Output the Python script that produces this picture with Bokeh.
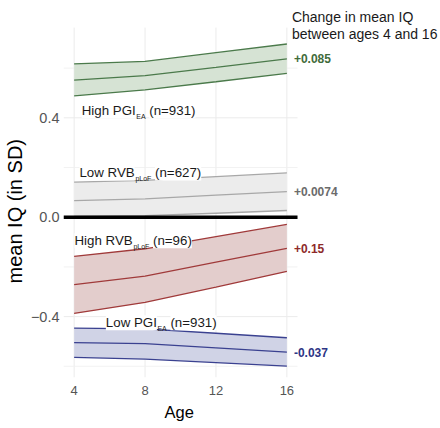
import math
from bokeh.plotting import figure
from bokeh.models import FixedTicker, Label, Title
from bokeh.embed import file_html
from bokeh.resources import INLINE

# ---------------- data ----------------
ages = [4, 8, 12, 16]

high_pgi_mean = [0.552, 0.570, 0.603, 0.637]
high_pgi_lower = [0.488, 0.512, 0.545, 0.579]
high_pgi_upper = [0.617, 0.627, 0.662, 0.697]

low_rvb_mean = [0.067, 0.074, 0.089, 0.103]
low_rvb_lower = [0.003, 0.006, 0.016, 0.027]
low_rvb_upper = [0.141, 0.148, 0.163, 0.178]

high_rvb_mean = [-0.271, -0.237, -0.181, -0.125]
high_rvb_lower = [-0.387, -0.343, -0.281, -0.218]
high_rvb_upper = [-0.158, -0.127, -0.078, -0.029]

low_pgi_mean = [-0.505, -0.509, -0.526, -0.543]
low_pgi_lower = [-0.564, -0.571, -0.585, -0.599]
low_pgi_upper = [-0.446, -0.449, -0.467, -0.485]

group_main = ["High PGI", "Low RVB", "High RVB", "Low PGI"]
group_sub = ["EA", "pLoF", "pLoF", "EA"]
group_n = ["(n=931)", "(n=627)", "(n=96)", "(n=931)"]
change_labels = ["+0.085", "+0.0074", "+0.15", "-0.037"]

x_ticks = [4, 8, 12, 16]
y_ticks = [-0.4, 0.0, 0.4]
y_tick_labels = ["\u22120.4", "0.0", "0.4"]
y_minor = [-0.6, -0.2, 0.2, 0.6]
title_lines = ["Change in mean IQ", "between ages 4 and 16"]
x_title = "Age"
y_title = "mean IQ (in SD)"

# ---------------- styles ----------------
FONT = "Liberation Sans"
line_colors = ["#4b7a4b", "#a8a8a8", "#a03a3a", "#3a4190"]
fill_colors = ["#d6e3d4", "#ececec", "#e3cdcc", "#d0d3e6"]
text_colors = ["#3f6b3a", "#6b6b6b", "#8e2a2a", "#2d3585"]
label_pos = [(4.43, 0.428), (4.30, 0.178), (4.02, -0.095), (5.79, -0.425)]
PANEL_X = (3.4, 16.6)
PANEL_Y = (-0.645, 0.763)

AW = {' ': 278, '(': 333, ')': 333, '=': 584, 'H': 722, 'i': 222, 'g': 556,
      'h': 556, 'P': 667, 'G': 778, 'I': 278, 'L': 556, 'o': 556, 'w': 722,
      'R': 722, 'V': 667, 'B': 667, 'n': 556, 'E': 667, 'A': 667, 'p': 556,
      'F': 611}


def tw(s, size):
    return sum(AW.get(c, 556) for c in s) * size / 1000.0


p = figure(width=440, height=428, x_range=(3.4, 24.665), y_range=(-0.645, 0.872),
           output_backend="svg", toolbar_location=None,
           min_border_left=60, min_border_right=0, min_border_top=0,
           min_border_bottom=51)
p.outline_line_color = None
p.grid.visible = False

# axes
p.xaxis.ticker = FixedTicker(ticks=x_ticks)
p.yaxis.ticker = FixedTicker(ticks=y_ticks, minor_ticks=y_minor)
p.yaxis.major_label_overrides = {t: l for t, l in zip(y_ticks, y_tick_labels)}
for ax in (p.xaxis[0], p.yaxis[0]):
    ax.axis_line_color = None
    ax.major_tick_line_color = None
    ax.minor_tick_line_color = None
    ax.major_tick_out = 0
    ax.major_tick_in = 0
    ax.minor_tick_out = 0
    ax.minor_tick_in = 0
    ax.major_label_text_font = FONT
    ax.major_label_text_color = "#555555"
p.xaxis.major_label_text_font_size = "13px"
p.yaxis.major_label_text_font_size = "14.5px"
p.xaxis.major_label_standoff = 8
p.yaxis.major_label_standoff = 4

# axis titles, aligned to the panel (not the whole frame)
p.add_layout(Title(text=x_title, align="left", offset=101, standoff=7,
                   text_font=FONT, text_font_size="16.5px",
                   text_font_style="normal", text_color="black"), "below")
p.add_layout(Title(text=y_title, align="left", offset=94, standoff=3,
                   text_font=FONT, text_font_size="20px",
                   text_font_style="normal", text_color="black"), "left")

# grid drawn over the panel area only
p.segment(x0=x_ticks, y0=[PANEL_Y[0]] * 4, x1=x_ticks, y1=[PANEL_Y[1]] * 4,
          line_color="#ebebeb", line_width=1)
p.segment(x0=[PANEL_X[0]] * 3, y0=y_ticks, x1=[PANEL_X[1]] * 3, y1=y_ticks,
          line_color="#ebebeb", line_width=1)
p.segment(x0=[PANEL_X[0]] * 4, y0=y_minor, x1=[PANEL_X[1]] * 4, y1=y_minor,
          line_color="#efefef", line_width=0.8)

groups = [
    (high_pgi_lower, high_pgi_mean, high_pgi_upper),
    (low_rvb_lower, low_rvb_mean, low_rvb_upper),
    (high_rvb_lower, high_rvb_mean, high_rvb_upper),
    (low_pgi_lower, low_pgi_mean, low_pgi_upper),
]

for i, (lo, mu, hi) in enumerate(groups):
    p.varea(x=ages, y1=lo, y2=hi, fill_color=fill_colors[i], fill_alpha=1.0)
    for series in (lo, mu, hi):
        p.line(ages, series, line_color=line_colors[i], line_width=1.3)

# zero line
p.segment(x0=[PANEL_X[0]], y0=[0], x1=[PANEL_X[1]], y1=[0],
          line_color="black", line_width=3.5)

# group labels with subscripts
MAIN_SIZE = 13.3
SUB_SIZE = 7.0
SUB_DROP = 6.0 / 248.5
for i in range(4):
    x0, yb = label_pos[i]
    w_main = tw(group_main[i], MAIN_SIZE)
    w_sub = tw(group_sub[i], SUB_SIZE)
    w_sp = tw(" ", MAIN_SIZE)
    p.add_layout(Label(x=x0, y=yb, text=group_main[i], text_font=FONT,
                       text_font_size=f"{MAIN_SIZE}px", text_color="#1a1a1a",
                       text_baseline="alphabetic", text_align="left",
                       background_fill_color="white"))
    p.add_layout(Label(x=x0, y=yb, x_offset=w_main + w_sub + w_sp + 0.5, text=group_n[i],
                       text_font=FONT, text_font_size=f"{MAIN_SIZE}px",
                       text_color="#1a1a1a", text_baseline="alphabetic",
                       text_align="left", background_fill_color="white"))
    p.add_layout(Label(x=x0, y=yb - SUB_DROP, x_offset=w_main + 0.5, text=group_sub[i],
                       text_font=FONT, text_font_size=f"{SUB_SIZE}px",
                       text_color="#1a1a1a", text_baseline="alphabetic",
                       text_align="left"))

# change labels at right
for i, (lo, mu, hi) in enumerate(groups):
    p.add_layout(Label(x=ages[-1], y=mu[-1], x_offset=7, text=change_labels[i],
                       text_font=FONT, text_font_size="12px", text_font_style="bold",
                       text_color=text_colors[i], text_baseline="middle",
                       text_align="left"))

# title at top right
p.add_layout(Label(x=ages[-1], y=0.8048, x_offset=5, text=title_lines[0],
                   text_font=FONT, text_font_size="14px", text_color="#1a1a1a",
                   text_baseline="alphabetic", text_align="left"))
p.add_layout(Label(x=ages[-1], y=0.738, x_offset=5, text=title_lines[1],
                   text_font=FONT, text_font_size="14px", text_color="#1a1a1a",
                   text_baseline="alphabetic", text_align="left"))

open("out.html", "w").write(file_html(p, INLINE))
